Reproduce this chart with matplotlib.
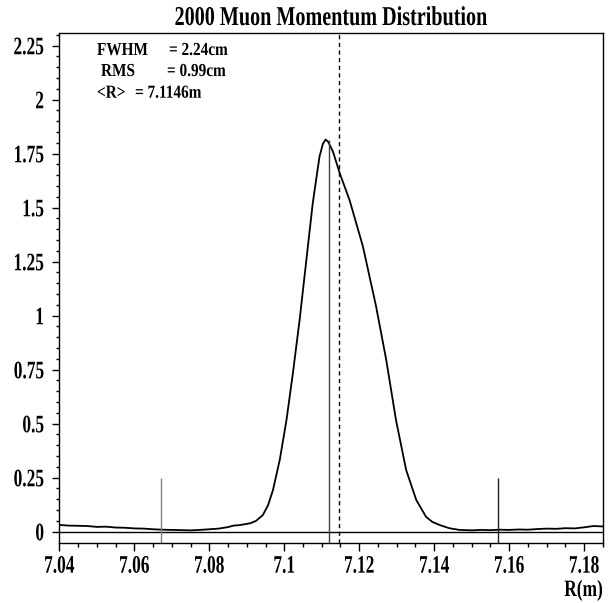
import matplotlib
matplotlib.use('Agg')
import matplotlib.pyplot as plt
from matplotlib.patheffects import AbstractPathEffect
from matplotlib.transforms import Affine2D

# curve (R in m, arbitrary units)
r_vals = [7.0400, 7.0425, 7.0450, 7.0475, 7.0500, 7.0525, 7.0550, 7.0575,
          7.0600, 7.0625, 7.0650, 7.0675, 7.0700, 7.0725, 7.0750, 7.0775,
          7.0800, 7.0825, 7.0850, 7.0865, 7.0880, 7.0900, 7.0910, 7.0925,
          7.0943, 7.0957, 7.0970, 7.0988, 7.1006, 7.1023, 7.1041, 7.1059,
          7.1076, 7.1094, 7.1103, 7.1110, 7.1117, 7.1130, 7.1148, 7.1174,
          7.1210, 7.1245, 7.1272, 7.1298, 7.1325, 7.1352, 7.1378, 7.1395,
          7.1414, 7.1440, 7.1467, 7.1500, 7.1525, 7.1550, 7.1575, 7.1600,
          7.1625, 7.1650, 7.1675, 7.1700, 7.1725, 7.1750, 7.1775, 7.1800,
          7.1825, 7.1850]
dens = [0.031, 0.028, 0.027, 0.026, 0.022, 0.023, 0.019, 0.018,
        0.015, 0.014, 0.011, 0.009, 0.008, 0.007, 0.006, 0.008,
        0.011, 0.014, 0.021, 0.028, 0.030, 0.036, 0.039, 0.050,
        0.077, 0.123, 0.193, 0.332, 0.517, 0.733, 0.980, 1.258,
        1.520, 1.736, 1.795, 1.815, 1.805, 1.759, 1.659, 1.536,
        1.319, 1.042, 0.795, 0.517, 0.286, 0.147, 0.069, 0.045,
        0.031, 0.016, 0.008, 0.006, 0.008, 0.007, 0.009, 0.008,
        0.010, 0.009, 0.012, 0.014, 0.013, 0.016, 0.015, 0.020,
        0.026, 0.024]

x_ticks = [7.04, 7.06, 7.08, 7.10, 7.12, 7.14, 7.16, 7.18]
x_labels = ['7.04', '7.06', '7.08', '7.1', '7.12', '7.14', '7.16', '7.18']
y_ticks = [0, 0.25, 0.5, 0.75, 1, 1.25, 1.5, 1.75, 2, 2.25]
y_labels = ['0', '0.25', '0.5', '0.75', '1', '1.25', '1.5', '1.75', '2', '2.25']

r_peak = 7.1120
r_mean = 7.1146
r_low, r_high = 7.0671, 7.1569
marker_h = 0.25
peak_h = 1.813

stats = [('FWHM', '= 2.24cm'), ('RMS', '= 0.99cm'), ('<R>', '= 7.1146m')]


class Stretch(AbstractPathEffect):
    # the reference font is tall and narrow: stretch glyphs vertically
    def __init__(self, sy, base=0.0):
        super().__init__()
        self.sy = sy
        self.base = base

    def draw_path(self, renderer, gc, tpath, affine, rgbFace=None):
        t = Affine2D().translate(0, -self.base).scale(1, self.sy).translate(0, self.base)
        renderer.draw_path(gc, tpath, t + affine, rgbFace)


plt.rcParams['font.family'] = ['Liberation Serif', 'DejaVu Serif']
plt.rcParams['font.weight'] = 'bold'

fig = plt.figure(figsize=(6.08, 6.03), dpi=100)
ax = fig.add_axes([0.0975, 0.099, 0.8942, 0.8458])

ax.plot(r_vals, dens, color='black', lw=1.3)
ax.axhline(0, color='black', lw=1)
ax.vlines(r_low, -0.06, marker_h, color='#808080', lw=1)
ax.vlines(r_high, -0.06, marker_h, color='#202020', lw=1)
ax.vlines(r_peak, -0.06, peak_h, color='#404040', lw=1)
ax.axvline(r_mean, color='black', lw=1, ls=(0, (3, 2.5)))

ax.set_xlim(7.04, 7.185)
ax.set_ylim(-0.054, 2.307)
ax.set_xticks(x_ticks)
ax.set_xticklabels(x_labels)
ax.set_xticks([7.04 + 0.005 * i for i in range(30)], minor=True)
ax.set_yticks(y_ticks)
ax.set_yticklabels(y_labels)
ax.set_yticks([0.05 * i for i in range(47)], minor=True)

ax.tick_params(which='both', direction='out', top=False, right=False, width=1)
ax.tick_params(axis='x', which='major', length=6, pad=4.6, labelsize=12.5)
ax.tick_params(axis='x', which='minor', length=3)
ax.tick_params(axis='y', which='major', length=5, pad=6, labelsize=12.5)
ax.tick_params(axis='y', which='minor', length=2.5)
for s in ax.spines.values():
    s.set_linewidth(1)

for lab in ax.get_xticklabels() + ax.get_yticklabels():
    lab.set_fontweight('bold')
    lab.set_path_effects([Stretch(1.45, 34)])

fig.text(331 / 608, 1 - 25 / 603, '2000 Muon Momentum Distribution',
         ha='center', va='baseline', fontsize=14.5, fontweight='bold',
         path_effects=[Stretch(1.35)])
fig.text(603 / 608, 1 - 596 / 603, 'R(m)', ha='right', va='baseline',
         fontsize=12.5, fontweight='bold', path_effects=[Stretch(1.35)])

name_x = [97, 101, 97]
val_x = [169, 167, 135]
base_y = [55, 76, 97.7]
for (name, val), nx, vx, by in zip(stats, name_x, val_x, base_y):
    fig.text(nx / 608, 1 - by / 603, name, ha='left', va='baseline',
             fontsize=11, fontweight='bold', path_effects=[Stretch(1.2)])
    fig.text(vx / 608, 1 - by / 603, val, ha='left', va='baseline',
             fontsize=11, fontweight='bold', path_effects=[Stretch(1.2)])

fig.savefig('out.png', dpi=100)
